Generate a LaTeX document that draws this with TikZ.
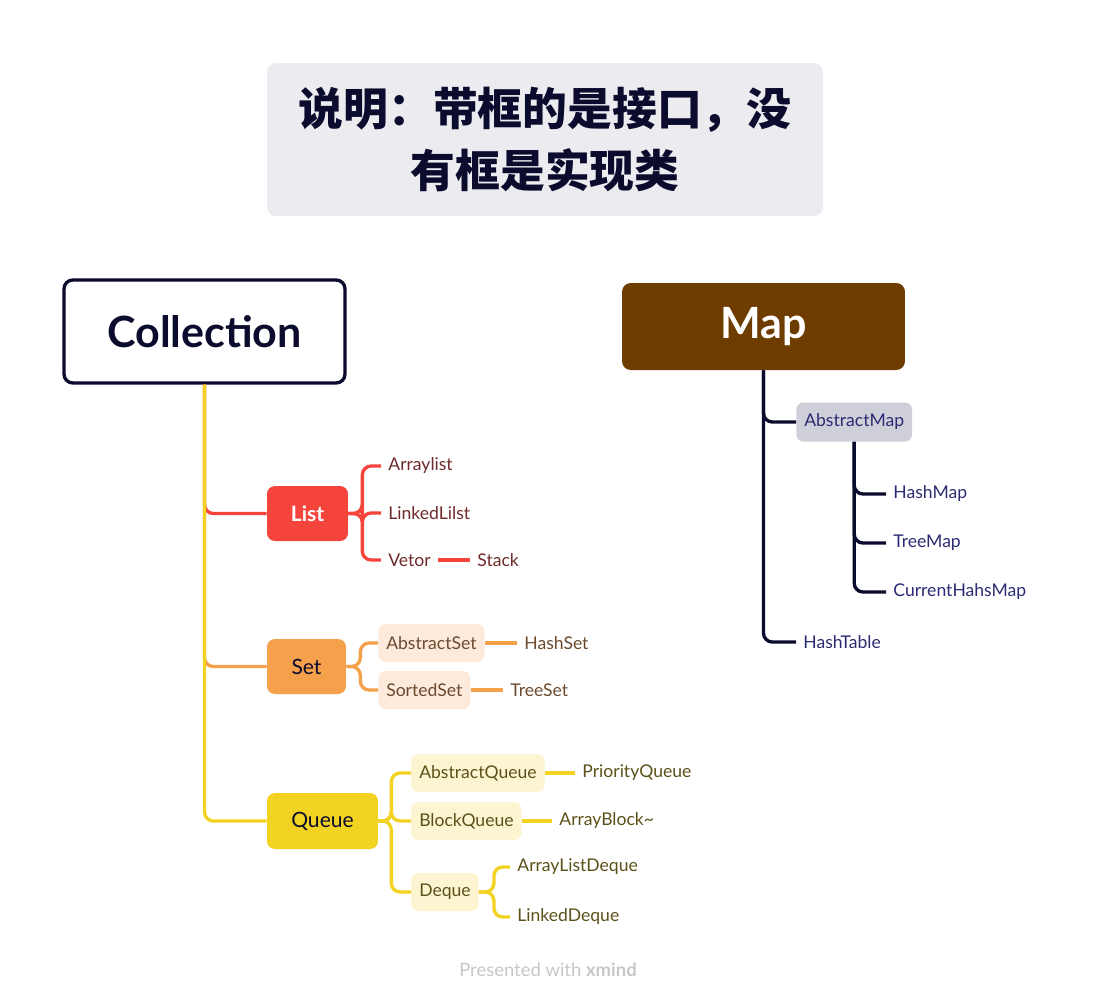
\documentclass[tikz,border=0pt]{standalone}
\usepackage{fontspec}
\setmainfont{Lato}
\newfontfamily\cjk{Noto Sans CJK SC}
\usetikzlibrary{positioning,calc}

\definecolor{ink}{HTML}{0B0B2E}
\definecolor{titlebg}{HTML}{ECEBEF}
\definecolor{mapbg}{HTML}{6F3C00}
\definecolor{listbg}{HTML}{F5443C}
\definecolor{setbg}{HTML}{F5A04B}
\definecolor{queuebg}{HTML}{F2D322}
\definecolor{listtx}{HTML}{6E2A2A}
\definecolor{settx}{HTML}{6B4A2E}
\definecolor{setsub}{HTML}{FDEADB}
\definecolor{queuetx}{HTML}{5B5118}
\definecolor{queuesub}{HTML}{FDF5D2}
\definecolor{mapsub}{HTML}{CFCFD9}
\definecolor{maptx}{HTML}{2B2B73}
\definecolor{footgrey}{HTML}{C7C7C7}

\begin{document}
\begin{tikzpicture}[x=0.02cm,y=-0.02cm,
    ln/.style={line width=1.9pt,rounded corners=5pt},
    redln/.style={ln,draw=listbg},
    orgln/.style={ln,draw=setbg},
    yelln/.style={ln,draw=queuebg},
    navln/.style={ln,draw=ink},
    topic/.style={rounded corners=5pt,inner sep=0pt,font=\fontsize{24.5}{28}\selectfont\bfseries},
    mid/.style={rounded corners=4.5pt,inner sep=0pt,minimum height=1.1cm,font=\fontsize{12}{14}\selectfont},
    sub/.style={rounded corners=4pt,inner xsep=4.5pt,inner ysep=0pt,minimum height=0.76cm,anchor=west,font=\fontsize{10}{12}\selectfont},
    leaf/.style={inner xsep=4pt,inner ysep=2pt,anchor=west,font=\fontsize{10}{12}\selectfont}]
  \useasboundingbox (0,0) rectangle (1097,1001);

  % title
  \node[fill=titlebg,rounded corners=5pt,minimum width=11.12cm,minimum height=3.06cm,
        align=center,text=ink,font=\cjk\bfseries\fontsize{25.5}{35}\selectfont] (title) at (545,139.5)
        {说明：带框的是接口，没\\有框是实现类};

  % roots
  \node[topic,draw=ink,line width=1.9pt,fill=white,text=ink,minimum width=5.62cm,minimum height=2.06cm] (coll) at (204.5,331.5) {Collection};
  \node[topic,fill=mapbg,text=white,minimum width=5.66cm,minimum height=1.74cm] (map) at (763.5,326.5) {Map};

  % Collection side
  \node[mid,fill=listbg,text=white,minimum width=1.62cm,font=\fontsize{12}{14}\selectfont\bfseries] (list) at (307.5,513.5) {List};
  \node[mid,fill=setbg,text=ink,minimum width=1.58cm] (set) at (306.5,666.5) {Set};
  \node[mid,fill=queuebg,text=ink,minimum width=2.22cm,minimum height=1.12cm] (queue) at (322.5,821) {Queue};

  \draw[redln] (coll.south) |- (list.west);
  \draw[orgln] (coll.south) |- (set.west);
  \draw[yelln] (coll.south) |- (queue.west);

  % List
  \node[leaf,text=listtx] (arrl) at (381,466) {Arraylist};
  \node[leaf,text=listtx] (lnkl) at (381,513) {LinkedLilst};
  \node[leaf,text=listtx] (veto) at (381,560) {Vetor};
  \node[leaf,text=listtx] (stck) at (470,560) {Stack};
  \coordinate (lk) at ($(list.east)+(14,0)$);
  \foreach \n in {arrl,lnkl,veto}
    \draw[redln] (list.east) -- (lk) |- (\n.west);
  \draw[redln] (veto) -- (stck);

  % Set
  \node[sub,fill=setsub,text=settx] (aset) at (378,643) {AbstractSet};
  \node[sub,fill=setsub,text=settx] (sset) at (378,690) {SortedSet};
  \node[leaf,text=settx] (hset) at (517,643) {HashSet};
  \node[leaf,text=settx] (tset) at (503,690) {TreeSet};
  \coordinate (sk) at ($(set.east)+(14,0)$);
  \foreach \n in {aset,sset}
    \draw[orgln] (set.east) -- (sk) |- (\n.west);
  \draw[orgln] (aset) -- (hset);
  \draw[orgln] (sset) -- (tset);

  % Queue
  \node[sub,fill=queuesub,text=queuetx] (aque) at (411,773) {AbstractQueue};
  \node[sub,fill=queuesub,text=queuetx] (bque) at (411,821) {BlockQueue};
  \node[sub,fill=queuesub,text=queuetx] (dque) at (411,892) {Deque};
  \node[leaf,text=queuetx] (pque) at (575,773) {PriorityQueue};
  \node[leaf,text=queuetx] (ablk) at (552,821) {ArrayBlock\textasciitilde};
  \node[leaf,text=queuetx] (aldq) at (510,867) {ArrayListDeque};
  \node[leaf,text=queuetx] (lkdq) at (510,917) {LinkedDeque};
  \coordinate (qk) at ($(queue.east)+(13,0)$);
  \foreach \n in {aque,bque,dque}
    \draw[yelln] (queue.east) -- (qk) |- (\n.west);
  \draw[yelln] (aque) -- (pque);
  \draw[yelln] (bque) -- (ablk);
  \coordinate (dk) at ($(dque.east)+(15,0)$);
  \foreach \n in {aldq,lkdq}
    \draw[yelln] (dque.east) -- (dk) |- (\n.west);

  % Map side
  \node[sub,fill=mapsub,text=maptx,minimum height=0.78cm] (amap) at (796,422) {AbstractMap};
  \node[leaf,text=maptx] (htab) at (796,642) {HashTable};
  \node[leaf,text=maptx] (hmap) at (886,494) {HashMap};
  \node[leaf,text=maptx] (tmap) at (886,543) {TreeMap};
  \node[leaf,text=maptx] (chmp) at (886,592) {CurrentHahsMap};
  \draw[navln] (map.south) |- (amap.west);
  \draw[navln] (map.south) |- (htab.west);
  \foreach \n in {hmap,tmap,chmp}
    \draw[navln] (amap.south) |- (\n.west);

  % footer
  \node[text=footgrey,font=\fontsize{10.5}{12}\selectfont] (foot) at (548,970) {Presented with \textbf{xmind}};
\end{tikzpicture}
\end{document}
